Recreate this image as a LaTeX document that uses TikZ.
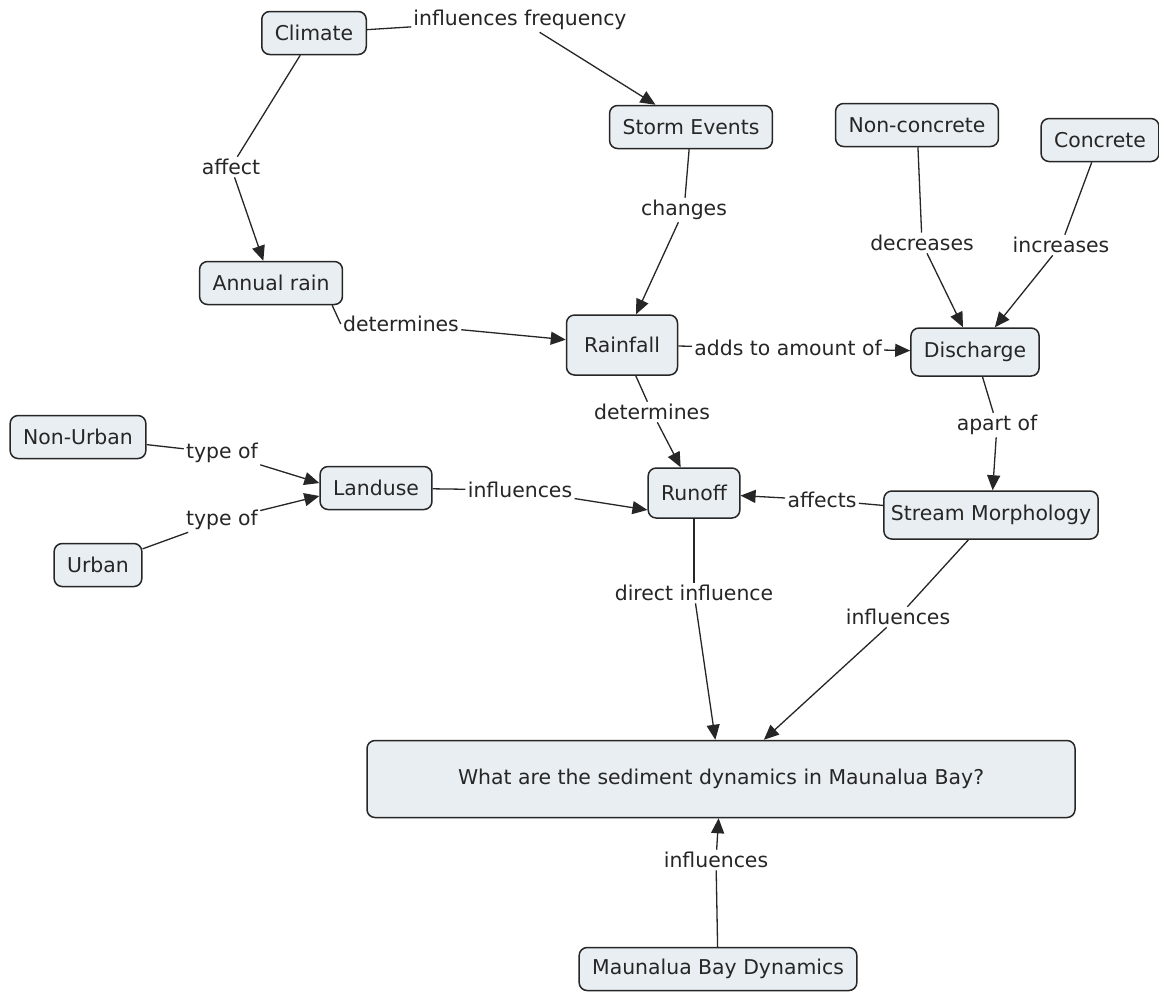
\documentclass[tikz,border=0pt]{standalone}
\usepackage{fontspec}
\setmainfont{DejaVu Sans}
\usetikzlibrary{arrows.meta}
\definecolor{boxfill}{HTML}{E8EEF2}
\definecolor{linea}{HTML}{262626}

\begin{document}
\begin{tikzpicture}[x=0.5pt,y=-0.5pt,
    concept/.style={draw=linea,line width=0.75pt,fill=boxfill,rounded corners=4pt,
      minimum height=21.5pt,inner xsep=6.5pt,font=\fontsize{10.2}{12}\selectfont,text=black!85},
    phrase/.style={fill=white,inner sep=1pt,font=\fontsize{10.2}{12}\selectfont,text=black!85},
    link/.style={draw=linea,line width=0.65pt},
    arr/.style={link,-{Triangle[length=7.5pt,width=6.5pt]}}]
        \fill[white] (0,0) rectangle (1159,992);
        \useasboundingbox (0,0) rectangle (1159,992);

        %%%%%%%%% Concetti %%%%%%%%%%
        \node[concept] (climate) at (314,33) {Climate};
        \node[concept] (storm) at (691,127) {Storm Events};
        \node[concept] (noncon) at (917,125) {Non-concrete};
        \node[concept] (concrete) at (1100,140) {Concrete};
        \node[concept] (annual) at (271,283) {Annual rain};
        \node[concept,minimum width=55.5pt,minimum height=30pt] (rainfall) at (622,345) {Rainfall};
        \node[concept,minimum height=24pt] (discharge) at (975,352) {Discharge};
        \node[concept] (nonurban) at (78,437) {Non-Urban};
        \node[concept] (urban) at (98,565) {Urban};
        \node[concept] (landuse) at (376,488) {Landuse};
        \node[concept,minimum height=25pt] (runoff) at (694,493) {Runoff};
        \node[concept,minimum height=24pt,inner xsep=3.5pt] (stream) at (991,515) {Stream Morphology};
        \node[concept,minimum width=354pt,minimum height=38.5pt] (question) at (721,779) {What are the sediment dynamics in Maunalua Bay?};
        \node[concept] (bay) at (718,969) {Maunalua Bay Dynamics};

        %%%%%%%%% Frasi %%%%%%%%%%
        \node[phrase] (inffreq) at (520,20) {influences frequency};
        \node[phrase] (affect) at (231,167) {affect};
        \node[phrase] (changes) at (684,210) {changes};
        \node[phrase] (det1) at (401,324) {determines};
        \node[phrase] (adds) at (788,348) {adds to amount of};
        \node[phrase] (decr) at (922,243) {decreases};
        \node[phrase] (incr) at (1061,245) {increases};
        \node[phrase] (apart) at (997,425) {apart of};
        \node[phrase] (det2) at (652,412) {determines};
        \node[phrase] (affects) at (822,500) {affects};
        \node[phrase] (type1) at (222,453) {type of};
        \node[phrase] (type2) at (222,520) {type of};
        \node[phrase] (infl1) at (520,490) {influences};
        \node[phrase] (direct) at (694,593) {direct influence};
        \node[phrase] (infl2) at (898,617) {influences};
        \node[phrase] (infl3) at (716,860) {influences};

        %%%%%%%%% Frecce %%%%%%%%%
        \draw[link] (climate) -- (inffreq);
        \draw[arr] (inffreq) -- (storm);
        \draw[link] (climate) -- (affect);
        \draw[arr] (affect) -- (annual);
        \draw[link] (storm) -- (changes);
        \draw[arr] (changes) -- (rainfall);
        \draw[link] (annual.-20) -- (det1.west);
        \draw[arr] (det1) -- (rainfall);
        \draw[link] (rainfall) -- (adds);
        \draw[arr] (adds) -- (discharge);
        \draw[link] (noncon) -- (decr);
        \draw[arr] (decr) -- (discharge);
        \draw[link] (concrete) -- (incr);
        \draw[arr] (incr) -- (discharge);
        \draw[link] (discharge) -- (apart);
        \draw[arr] (apart) -- (stream);
        \draw[link] (stream) -- (affects);
        \draw[arr] (affects) -- (runoff);
        \draw[link] (rainfall) -- (det2);
        \draw[arr] (det2) -- (runoff);
        \draw[link] (nonurban) -- (type1);
        \draw[arr] (type1) -- (landuse.175);
        \draw[link] (urban) -- (type2);
        \draw[arr] (type2) -- (landuse.188);
        \draw[link] (landuse) -- (infl1);
        \draw[arr] (infl1) -- (runoff.200);
        \draw[link] (runoff) -- (direct);
        \draw[arr] (direct) -- (question);
        \draw[link] (stream) -- (infl2);
        \draw[arr] (infl2) -- (question);
        \draw[link] (bay) -- (infl3);
        \draw[arr] (infl3) -- (question);
    \end{tikzpicture}
\end{document}
